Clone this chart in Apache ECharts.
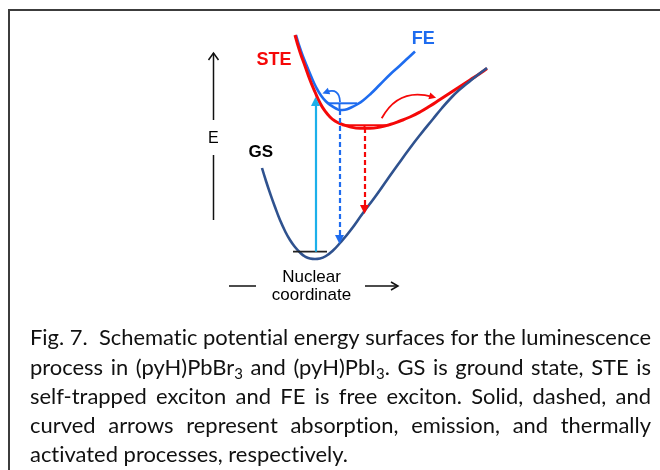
<!DOCTYPE html>
<html><head><meta charset="utf-8">
<script src="https://cdn.jsdelivr.net/npm/echarts@6/dist/echarts.min.js"></script>
<style>html,body{margin:0;padding:0;background:#fff;overflow:hidden}#c{width:660px;height:470px}</style>
</head><body><div id="c"></div>
<script>
// ---- Potential energy surfaces (x: nuclear coordinate, y: energy, arbitrary units) ----
const feCurve = [[9.6,28.5],[10.1,26.9],[10.6,25.6],[11.1,24.4],[11.6,23.3],[12.1,22.45],[12.6,21.85],[13.1,21.45],[13.6,21.15],[14.0,21.0],[14.5,21.03],[15.1,21.25],[15.7,21.55],[16.3,21.95],[17.1,22.65],[18.0,23.55],[19.0,24.55],[20.0,25.45],[20.8,26.2],[21.5,26.85]];
const steCurve = [[9.5,28.5],[10.0,26.8],[10.5,25.4],[11.0,24.0],[11.5,22.8],[12.0,21.7],[12.5,20.9],[13.0,20.3],[13.5,19.9],[14.0,19.65],[15.0,19.32],[16.0,19.17],[17.0,19.17],[18.0,19.3],[19.0,19.55],[20.0,19.9],[21.0,20.3],[22.0,20.8],[23.0,21.4],[24.0,22.05],[25.0,22.7],[26.0,23.35],[27.0,24.0],[28.0,24.65],[28.7,25.15]];
const gsCurve = [[6.2,15.2],[6.6,13.9],[7.0,12.7],[7.5,11.3],[8.0,10.0],[8.5,8.9],[9.0,8.0],[9.5,7.3],[10.0,6.75],[10.5,6.35],[11.0,6.15],[11.5,6.1],[12.0,6.15],[12.6,6.4],[13.3,6.95],[14.0,7.7],[15.0,8.9],[16.3,10.7],[17.5,12.3],[18.7,14.0],[19.8,15.55],[21.0,17.2],[22.0,18.5],[23.3,20.1],[24.2,21.2],[25.0,22.1],[25.8,22.9],[26.7,23.65],[27.7,24.45],[28.7,25.2]];

// vibrational levels
const gsLevel = [[9.3,6.83],[12.7,6.83]];
const feLevel = [[12.8,21.67],[15.7,21.67]];
const feTick = [[13.95,21.67],[13.95,21.0]];
const steLevel = [[14.2,19.47],[18.9,19.47]];
const steTick = [[16.45,19.47],[16.45,19.2]];

// transitions
const absorption = [[11.55,6.83],[11.55,21.85]];
const feEmission = [[13.95,21.0],[13.95,8.05]];
const steEmission = [[16.45,19.2],[16.45,11.05]];
const feThermal = [[14.0,21.8],[12.57,22.77]];
const steThermal = [[18.17,20.17],[23.27,22.31]];

// axis arrows
const eAxisUpper = [[1.35,20.0],[1.35,26.7]];
const eAxisHead = [[0.85,26.0],[1.35,26.7],[1.85,26.0]];
const eAxisLower = [[1.35,16.5],[1.35,10.0]];
const xAxisLeft = [[2.9,3.4],[5.6,3.4]];
const xAxisRight = [[16.5,3.4],[19.8,3.4]];
const xAxisHead = [[19.1,3.8],[19.8,3.4],[19.1,3.0]];

// labels
const labelTexts = ['STE','FE','GS','E','Nuclear\ncoordinate'];
const labelAnchors = [[7.4,26.0],[22.33,28.08],[6.08,16.75],[1.33,18.13],[11.15,3.4]];

// caption
const captionLines = [
  'Fig. 7.  Schematic potential energy surfaces for the luminescence',
  'process in (pyH)PbBr_3 and (pyH)PbI_3. GS is ground state, STE is',
  'self-trapped exciton and FE is free exciton. Solid, dashed, and',
  'curved arrows represent absorption, emission, and thermally',
  'activated processes, respectively.'
];

const C = {fe:'#1E6CEF', ste:'#F50808', gs:'#2F528F', abs:'#1CB0EA', dark:'#222'};

// ---------- caption layout (justified) ----------
const CAP = {x0: 30, x1: 651, base0: 346.7, step: 29.3, size: 22, sub: 15, family: 'Lato'};
const noLig = t => t.replace(/t(?=[il])/g, 't\u200C').replace(/f(?=[fil])/g, 'f\u200C');
const mctx = document.createElement('canvas').getContext('2d');
function meas(t, s){ mctx.font = s + 'px ' + CAP.family; return mctx.measureText(noLig(t)).width; }
function parseWord(wd){
  const segs=[]; const re=/_(\d)/g; let last=0, m;
  while((m=re.exec(wd))){ if(m.index>last) segs.push({t:wd.slice(last,m.index)}); segs.push({t:m[1], sub:true}); last=re.lastIndex; }
  if(last<wd.length) segs.push({t:wd.slice(last)});
  return segs;
}
function segW(s){ return s.t ? meas(s.t, s.sub?CAP.sub:CAP.size) : 0; }
const parsed = captionLines.map(l => l.split(' ').map(parseWord));
const wordW = ws => ws.reduce((a,s)=>a+segW(s),0);
const spaceW = meas(' ', CAP.size);
const nat0 = parsed[0].reduce((a,w)=>a+wordW(w),0) + spaceW*(parsed[0].length-1);
const sx = (CAP.x1-CAP.x0)/nat0;
const capElems = [];
parsed.forEach((words, li) => {
  const base = CAP.base0 + li*CAP.step;
  const total = words.reduce((a,w)=>a+wordW(w),0);
  const justify = li < parsed.length-1;
  const gap = justify ? ((CAP.x1-CAP.x0)/sx - total)/(words.length-1) : spaceW;
  let pos = 0;
  words.forEach(w => {
    w.forEach(s => {
      const size = s.sub ? CAP.sub : CAP.size;
      const b = s.sub ? base + 4 : base;
      if (s.t) capElems.push({type:'text', x: CAP.x0 + pos*sx, y: b - 0.387*size, scaleX: sx, silent:true,
        style:{text:noLig(s.t), font: size+'px '+CAP.family, fill:'#111', align:'left', textAlign:'left', verticalAlign:'middle', textVerticalAlign:'middle'}});
      pos += segW(s);
    });
    pos += gap;
  });
});

const chart = echarts.init(document.getElementById('c'));
const seg = (coords, color, width, extra) => Object.assign({coords, lineStyle:{color, width, opacity:1}}, extra||{});

const labelStyles = [
  {color:C.ste, fontWeight:'bold', fontSize:18},
  {color:C.fe, fontWeight:'bold', fontSize:18},
  {color:'#000', fontWeight:'bold', fontSize:17},
  {color:'#000', fontWeight:'normal', fontSize:16},
  {color:'#000', fontWeight:'normal', fontSize:17, lineHeight:18}
];

chart.setOption({
  animation:false,
  backgroundColor:'#fff',
  grid:{left:200, top:20, width:300, height:300},
  xAxis:{type:'value', min:0, max:30, show:false},
  yAxis:{type:'value', min:0, max:30, show:false},
  graphic:[
    {type:'polyline', shape:{points:[[9,490],[9,10],[680,10]]}, style:{fill:'none', stroke:'#3c3c3c', lineWidth:2}, silent:true}
  ].concat(capElems),
  series:[
    {type:'line', name:'FE', data:feCurve, smooth:0.5, showSymbol:false, symbol:'none', clip:false, z:2,
      lineStyle:{color:C.fe, width:2.6}},
    {type:'line', name:'STE', data:steCurve, smooth:0.5, showSymbol:false, symbol:'none', clip:false, z:3,
      lineStyle:{color:C.ste, width:3}},
    {type:'line', name:'GS', data:gsCurve, smooth:0.5, showSymbol:false, symbol:'none', clip:false, z:4,
      lineStyle:{color:C.gs, width:2.6}},
    {type:'lines', coordinateSystem:'cartesian2d', name:'levels', polyline:true, z:5, symbol:'none',
      data:[seg(gsLevel, C.dark, 1.8), seg(feLevel, C.fe, 2), seg(feTick, C.fe, 2), seg(steLevel, C.ste, 2), seg(steTick, C.ste, 2),
            seg(eAxisUpper, '#111', 1.5), seg(eAxisHead, '#111', 1.5), seg(eAxisLower, '#111', 1.5),
            seg(xAxisLeft, '#111', 1.5), seg(xAxisRight, '#111', 1.5), seg(xAxisHead, '#111', 1.5)]},
    {type:'lines', coordinateSystem:'cartesian2d', name:'absorption', z:6, symbol:['none','triangle'], symbolSize:[7,9],
      data:[{coords:absorption, lineStyle:{color:C.abs, width:2.2, opacity:1}}]},
    {type:'lines', coordinateSystem:'cartesian2d', name:'emission', z:6, symbol:['none','triangle'], symbolSize:[7,9],
      data:[{coords:feEmission, lineStyle:{color:C.fe, width:2.2, opacity:1, type:[5,3]}},
            {coords:steEmission, lineStyle:{color:C.ste, width:2.2, opacity:1, type:[5,3]}}]},
    {type:'lines', coordinateSystem:'cartesian2d', name:'thermal', z:6, symbol:['none','triangle'], symbolSize:[6,7],
      data:[{coords:feThermal, lineStyle:{color:C.fe, width:1.8, opacity:1, curveness:-0.7}},
            {coords:steThermal, lineStyle:{color:C.ste, width:1.8, opacity:1, curveness:0.4}}]},
    {type:'scatter', name:'labels', z:7, symbolSize:1, itemStyle:{color:'transparent', opacity:1}, clip:false,
      emphasis:{disabled:true},
      data: labelTexts.map((t,i)=>({value:labelAnchors[i], label:Object.assign({show:true, position:'inside', formatter:t,
        fontFamily:'Liberation Sans, Arial, sans-serif', align:'center', verticalAlign:'middle', opacity:1}, labelStyles[i])}))}
  ]
});
</script></body></html>
